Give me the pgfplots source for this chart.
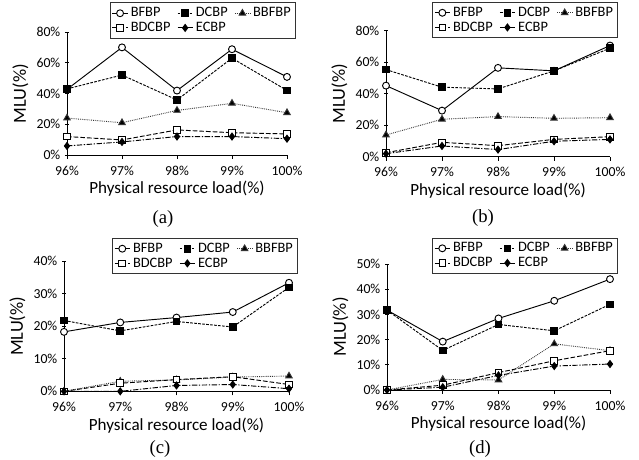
\documentclass[border=0pt]{standalone}
\usepackage{fontspec}
\setmainfont{Carlito}
\newfontfamily\capfont{Liberation Serif}
\usepackage{pgfplots}
\pgfplotsset{compat=1.18}
\usepackage{pgfplotstable}

% x: 0=96%, 1=97%, 2=98%, 3=99%, 4=100%
\pgfplotstableread{
x bfbp dcbp bbfbp bdcbp ecbp
0 42.7 43.0 24.0 12.0 5.9
1 70.0 52.0 21.0 9.8  8.5
2 41.9 35.8 29.0 16.3 12.0
3 68.8 63.0 33.6 14.5 12.0
4 50.8 42.0 27.5 13.7 10.6
}\dataA
\pgfplotstableread{
x bfbp dcbp bbfbp bdcbp ecbp
0 45.2 55.4 13.8 2.5  1.9
1 29.3 44.2 23.8 9.1  6.8
2 56.5 43.1 25.5 7.0  4.5
3 54.6 54.6 24.4 11.0 9.8
4 70.7 69.0 24.8 12.7 11.0
}\dataB
\pgfplotstableread{
x bfbp dcbp bbfbp bdcbp ecbp
0 18.3 21.8 0.0 0.0 0.0
1 21.2 18.6 3.1 2.5 0.0
2 22.7 21.5 3.5 3.6 1.8
3 24.4 19.8 4.4 4.5 2.1
4 33.4 32.0 4.7 2.1 0.8
}\dataC
\pgfplotstableread{
x bfbp dcbp bbfbp bdcbp ecbp
0 31.7 31.7 0.0  0.0  0.0
1 19.2 15.7 4.2  1.9  1.1
2 28.4 26.0 4.0  6.9  5.8
3 35.4 23.5 18.3 11.6 9.5
4 44.0 34.0 15.6 15.6 10.3
}\dataD

\pgfplotsset{
  mlu/.style={
    scale only axis, xmin=0, xmax=4, ymin=0, clip=false,
    axis x line=bottom, axis y line=left,
    axis line style={-, black, line width=0.7pt},
    xtick={0,...,4}, xticklabels={96\%,97\%,98\%,99\%,100\%},
    yticklabel={\pgfmathprintnumber{\tick}\%},
    /pgf/number format/assume math mode=true,
    tick label style={font=\fontsize{10.3}{12}\selectfont},
    xticklabel style={yshift=-1.5pt},
    xlabel={Physical resource load(\%)},
    ylabel={MLU(\%)},
    xtick align=outside, ytick align=center,
    major tick length=3pt,
    tick style={black, line width=0.7pt},
    xlabel style={font=\fontsize{12.8}{14}\selectfont,
      at={(axis description cs:0.5,0)}, anchor=center, yshift=-25.5pt},
    ylabel style={font=\fontsize{13.8}{15}\selectfont,
      at={(axis description cs:0,0.5)}, anchor=center, yshift=35pt},
    legend columns=3,
    legend style={font=\fontsize{10.8}{12}\selectfont, draw=black!80, line width=0.65pt,
      inner sep=1.5pt, row sep=-1.5pt, anchor=north east, cells={anchor=west},
      /tikz/every even column/.append style={column sep=3pt}},
    legend image code/.code={\draw[mark repeat=2,mark phase=2]
      plot coordinates {(0cm,0cm)(0.2cm,0cm)(0.4cm,0cm)};},
  },
  sbf/.style={black, solid, line width=0.7pt, mark=*, mark size=2.6pt, mark options={solid, fill=white}},
  sdc/.style={black, line width=0.7pt, dash pattern=on 2pt off 1pt, mark=square*, mark size=2.5pt, mark options={solid, fill=black}},
  sbb/.style={black!80, line width=0.7pt, dash pattern=on 0.6pt off 0.8pt, mark=triangle*, mark size=2.8pt, mark options={solid, fill=black}},
  sbd/.style={black, line width=0.7pt, dash pattern=on 3.5pt off 1.5pt, mark=square*, mark size=2.5pt, mark options={solid, fill=white}},
  sec/.style={black, line width=0.7pt, dash pattern=on 4pt off 1.2pt on 1pt off 1.2pt, mark=diamond*, mark size=2.6pt, mark options={solid, fill=black}},
}

\newcommand{\series}[1]{%
  \addplot[sbf] table[x=x, y=bfbp] {#1}; \addlegendentry{BFBP}
  \addplot[sdc] table[x=x, y=dcbp] {#1}; \addlegendentry{DCBP}
  \addplot[sbb] table[x=x, y=bbfbp] {#1}; \addlegendentry{BBFBP}
  \addplot[sbd] table[x=x, y=bdcbp] {#1}; \addlegendentry{BDCBP}
  \addplot[sec] table[x=x, y=ecbp] {#1}; \addlegendentry{ECBP}
}

\begin{document}
\begin{tikzpicture}
\useasboundingbox (0,0) rectangle (479.25pt,345pt);

\begin{axis}[mlu, at={(50.25pt,228.75pt)}, width=165pt, height=92.25pt,
  ymax=80, ytick={0,20,...,80}, legend style={at={(1.04,1.24)}}]
\series{\dataA}
\end{axis}

\begin{axis}[mlu, at={(289.5pt,227.5pt)}, width=168pt, height=94.3pt,
  ymax=80, ytick={0,20,...,80}, legend style={at={(1.036,1.23)}}]
\series{\dataB}
\end{axis}

\begin{axis}[mlu, at={(48pt,51.5pt)}, width=168.75pt, height=97.5pt,
  ymax=40, ytick={0,10,...,40}, legend style={at={(1.04,1.18)}}]
\series{\dataC}
\end{axis}

\begin{axis}[mlu, at={(290.25pt,52.5pt)}, width=167.25pt, height=94.5pt,
  ymax=50, ytick={0,10,...,50}, legend style={at={(1.036,1.21)}}]
\series{\dataD}
\end{axis}

\node[font=\capfont\fontsize{14}{16}\selectfont] at (122.25pt,180.5pt) {(a)};
\node[font=\capfont\fontsize{14}{16}\selectfont] at (362.25pt,181.25pt) {(b)};
\node[font=\capfont\fontsize{14}{16}\selectfont] at (120pt,8.5pt) {(c)};
\node[font=\capfont\fontsize{14}{16}\selectfont] at (360pt,8.5pt) {(d)};
\end{tikzpicture}
\end{document}
